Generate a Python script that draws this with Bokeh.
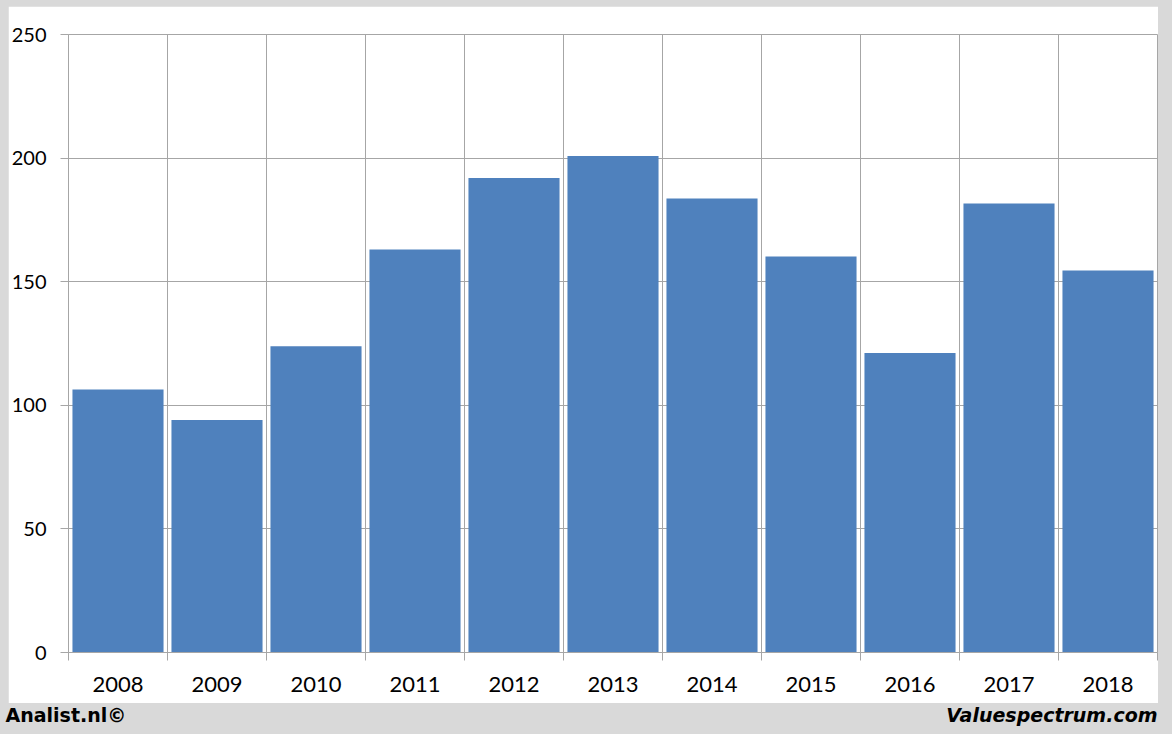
from bokeh.plotting import figure
from bokeh.models import Range1d, FixedTicker, Label, ColumnDataSource, Spacer
from bokeh.layouts import column, row
from bokeh.embed import file_html
from bokeh.resources import INLINE

years = ["2008", "2009", "2010", "2011", "2012", "2013", "2014", "2015", "2016", "2017", "2018"]
values = [106.4, 94.1, 123.9, 163.0, 192.0, 200.9, 183.7, 160.2, 121.2, 181.6, 154.5]
y_ticks = [0, 50, 100, 150, 200, 250]

GRID = "#a6a6a6"
BAR = "#4f81bd"
FRAME_BG = "#d9d9d9"
FONT = "Lato"
FOOT_FONT = "DejaVu Sans"

n = len(years)
xs = list(range(n))
src = ColumnDataSource(dict(x=xs, top=values))

p = figure(width=1150, height=697, output_backend="svg", toolbar_location=None,
           x_range=Range1d(-0.5, n - 0.5), y_range=Range1d(0, 250),
           min_border_left=60, min_border_right=1, min_border_top=28, min_border_bottom=51)
p.border_fill_color = "white"
p.background_fill_color = "white"
p.outline_line_color = GRID

p.vbar(x="x", top="top", bottom=0, width=0.92, source=src, fill_color=BAR, line_color=None)

# x axis
xa = p.xaxis[0]
xa.ticker = FixedTicker(ticks=xs, minor_ticks=[i - 0.5 for i in range(n + 1)])
xa.major_label_overrides = {i: y for i, y in enumerate(years)}
xa.major_tick_out = 0
xa.major_tick_in = 0
xa.minor_tick_out = 8
xa.minor_tick_in = 0
xa.minor_tick_line_color = GRID
xa.axis_line_color = GRID
xa.major_label_text_font = FONT
xa.major_label_text_font_size = "22px"
xa.major_label_text_color = "black"
xa.major_label_standoff = 16

# y axis
ya = p.yaxis[0]
ya.ticker = FixedTicker(ticks=y_ticks)
ya.major_tick_out = 8
ya.major_tick_in = 0
ya.minor_tick_out = 0
ya.minor_tick_in = 0
ya.major_tick_line_color = GRID
ya.axis_line_color = GRID
ya.major_label_text_font = FONT
ya.major_label_text_font_size = "20px"
ya.major_label_text_color = "black"
ya.major_label_standoff = 14

p.xgrid.ticker = FixedTicker(ticks=[i - 0.5 for i in range(n + 1)])
p.ygrid.ticker = FixedTicker(ticks=y_ticks)
p.xgrid.grid_line_color = GRID
p.ygrid.grid_line_color = GRID

# footer strip
f = figure(width=1172, height=31, output_backend="svg", toolbar_location=None,
           x_range=Range1d(0, 1172), y_range=Range1d(0, 31),
           x_axis_location=None, y_axis_location=None,
           min_border_left=0, min_border_right=0, min_border_top=0, min_border_bottom=0)
f.border_fill_color = FRAME_BG
f.background_fill_color = FRAME_BG
f.outline_line_color = None
f.xgrid.visible = False
f.ygrid.visible = False
f.add_layout(Label(x=5, y=19.5, text="Analist.nl©",
                   text_font=FOOT_FONT, text_font_style="bold", text_font_size="19px",
                   text_color="black", text_align="left", text_baseline="alphabetic"))
f.add_layout(Label(x=1157, y=19.5, text="Valuespectrum.com",
                   text_font=FOOT_FONT, text_font_style="bold italic", text_font_size="19px",
                   text_color="black", text_align="right", text_baseline="alphabetic"))

grey = {"background-color": FRAME_BG}
top_strip = Spacer(width=1172, height=6, styles=grey)
left_strip = Spacer(width=8, height=697, styles=grey)
right_strip = Spacer(width=14, height=697, styles=grey)

layout = column(top_strip, row(left_strip, p, right_strip, styles=grey), f, styles=grey)

open("out.html", "w").write(file_html(layout, INLINE))
